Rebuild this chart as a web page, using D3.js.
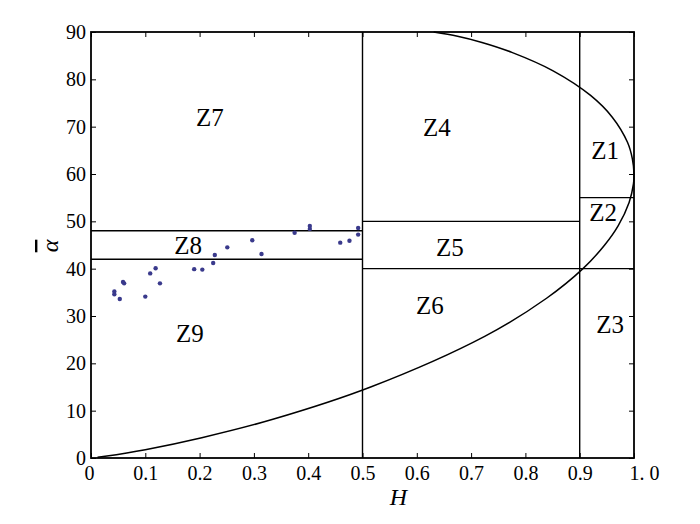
<!DOCTYPE html>
<html>
<head>
<meta charset="utf-8">
<script src="https://cdn.jsdelivr.net/npm/d3@7"></script>
<style>
  body { margin: 0; background: #fff; }
</style>
</head>
<body>
<div id="viz-container"></div>
<script>
// zone boundaries (H, alpha)
const hSplits = [0.5, 0.9];
const zoneLinesLeft = [42, 48];     // H 0 - 0.5
const zoneLinesMid = [40, 50];      // H 0.5 - 0.9
const zoneLinesRight = [40, 55];    // H 0.9 - 1

// feasible region boundary
const boundary = [
  [0.012, 0.15], [0.026, 0.36], [0.100, 1.76], [0.204, 4.29], [0.335, 8.18],
  [0.515, 15.0], [0.725, 25.7], [0.839, 33.75], [0.906, 40.0], [0.946, 45.0],
  [0.971, 49.1], [0.991, 54.0], [0.999, 57.9], [1.0, 60.0], [0.997, 63.2],
  [0.988, 66.7], [0.960, 72.0], [0.920, 76.6], [0.851, 81.8], [0.775, 85.7],
  [0.720, 87.8], [0.675, 89.1], [0.631, 90.0]
];

// measured samples
const sampleH = [0.043, 0.043, 0.053, 0.059, 0.061, 0.100, 0.109, 0.119, 0.127, 0.190, 0.205, 0.225,
  0.228, 0.251, 0.297, 0.314, 0.375, 0.403, 0.403, 0.459, 0.476, 0.492, 0.492];
const sampleAlpha = [35.2, 34.6, 33.6, 37.2, 36.9, 34.1, 39.0, 40.1, 36.9, 39.9, 39.8, 41.2,
  42.9, 44.5, 46.0, 43.1, 47.6, 49.0, 48.4, 45.5, 45.9, 48.6, 47.2];

const zoneNames = ["Z7", "Z4", "Z1", "Z2", "Z8", "Z5", "Z6", "Z9", "Z3"];
const zoneH = [0.219, 0.637, 0.947, 0.943, 0.179, 0.661, 0.624, 0.182, 0.956];
const zoneAlpha = [72.0, 69.9, 64.9, 51.8, 45.0, 44.4, 32.3, 26.4, 28.1];

const xTicks = [0, 0.1, 0.2, 0.3, 0.4, 0.5, 0.6, 0.7, 0.8, 0.9, 1.0];
const xTickLabels = ["0", "0.1", "0.2", "0.3", "0.4", "0.5", "0.6", "0.7", "0.8", "0.9", "1. 0"];
const yTicks = [0, 10, 20, 30, 40, 50, 60, 70, 80, 90];

const serif = "'Liberation Serif', 'Times New Roman', serif";

const margin = {top: 32, right: 66, bottom: 66, left: 91},
  width = 700 - margin.left - margin.right,
  height = 524 - margin.top - margin.bottom;

const svg = d3.select("#viz-container").append("svg")
  .attr("width", 700)
  .attr("height", 524)
  .style("font-family", serif)
  .append("g")
    .attr("transform", `translate(${margin.left}, ${margin.top})`);

const x = d3.scaleLinear().domain([0, 1]).range([0, width]);
const y = d3.scaleLinear().domain([0, 90]).range([height, 0]);

const line = d3.line()
  .x(d => x(d[0]))
  .y(d => y(d[1]));

const seg = (x1, y1, x2, y2) => svg.append("path")
  .attr("d", line([[x1, y1], [x2, y2]]))
  .attr("fill", "none")
  .attr("stroke", "black")
  .attr("stroke-width", 1.4);

// zone lines
hSplits.forEach(h => seg(h, 0, h, 90));
zoneLinesLeft.forEach(a => seg(0, a, hSplits[0], a));
zoneLinesMid.forEach(a => seg(hSplits[0], a, hSplits[1], a));
zoneLinesRight.forEach(a => seg(hSplits[1], a, 1, a));

// boundary curve
svg.append("path")
  .datum(boundary)
  .attr("fill", "none")
  .attr("stroke", "black")
  .attr("stroke-width", 1.5)
  .attr("d", line.curve(d3.curveCatmullRom));

// samples
svg.append("g")
  .selectAll("circle")
  .data(sampleH.map((h, i) => [h, sampleAlpha[i]]))
  .join("circle")
    .attr("cx", d => x(d[0]))
    .attr("cy", d => y(d[1]))
    .attr("r", 2.2)
    .attr("fill", "#3a3a8c");

// zone labels
svg.append("g")
  .selectAll("text")
  .data(zoneNames)
  .join("text")
    .attr("x", (d, i) => x(zoneH[i]))
    .attr("y", (d, i) => y(zoneAlpha[i]))
    .attr("text-anchor", "middle")
    .attr("dominant-baseline", "central")
    .attr("font-family", serif)
    .attr("font-size", 25)
    .text(d => d);

// axes, matlab style inward ticks
const styleAxis = g => {
  g.attr("font-family", serif);
  g.select(".domain").remove();
  g.selectAll(".tick line").attr("stroke", "black");
  g.selectAll(".tick text").attr("fill", "black").attr("font-size", 20)
    .attr("font-family", serif);
};

svg.append("g")
  .attr("transform", `translate(0, ${height})`)
  .call(d3.axisBottom(x).tickValues(xTicks)
    .tickFormat((d, i) => xTickLabels[i]).tickSize(-5).tickPadding(8))
  .call(styleAxis)
  .call(g => g.selectAll(".tick text").filter(d => d === 1).attr("dx", 10))
  .call(g => g.selectAll(".tick text").filter(d => d === 0).attr("dx", -2));

svg.append("g")
  .call(d3.axisLeft(y).tickValues(yTicks).tickSize(-5).tickPadding(5))
  .call(styleAxis);

svg.append("g")
  .call(d3.axisTop(x).tickValues(xTicks).tickFormat("").tickSize(-5))
  .call(styleAxis);

svg.append("g")
  .attr("transform", `translate(${width}, 0)`)
  .call(d3.axisRight(y).tickValues(yTicks).tickFormat("").tickSize(-5))
  .call(styleAxis);

svg.append("rect")
  .attr("width", width)
  .attr("height", height)
  .attr("fill", "none")
  .attr("stroke", "black")
  .attr("stroke-width", 1.8);

// axis titles
svg.append("text")
  .attr("x", width / 2 + 36)
  .attr("y", height + 47)
  .attr("text-anchor", "middle")
  .attr("font-family", serif)
  .attr("font-size", 24)
  .attr("font-style", "italic")
  .text("H");

svg.append("text")
  .attr("transform", `translate(${-41}, ${height / 2 + 1}) rotate(-90)`)
  .attr("text-anchor", "middle")
  .attr("dominant-baseline", "central")
  .attr("font-family", serif)
  .attr("font-size", 24)
  .attr("font-style", "italic")
  .attr("text-decoration", "overline")
  .text("α");
</script>
</body>
</html>
